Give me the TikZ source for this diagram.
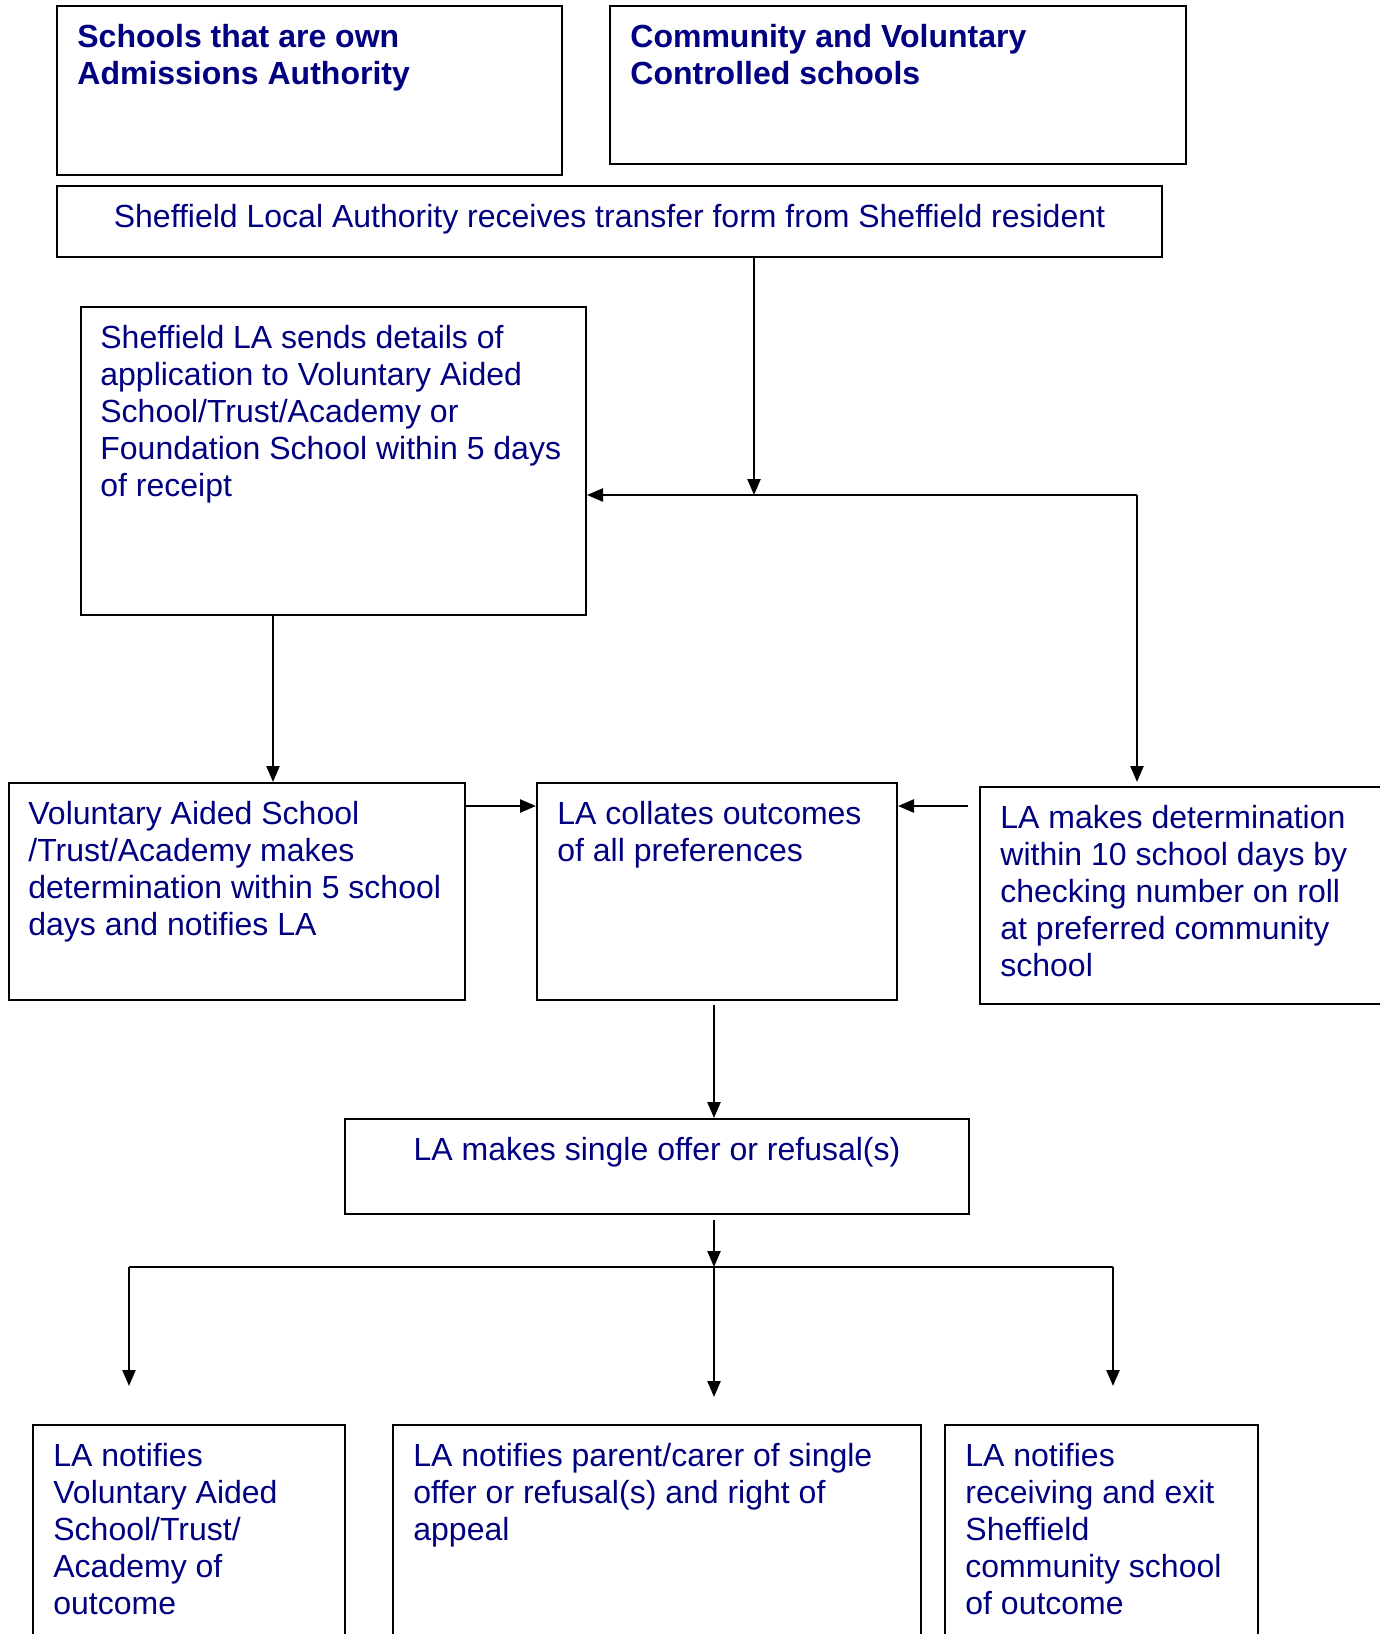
\documentclass[tikz,border=0pt]{standalone}
\usepackage{fontspec}
\setmainfont{Liberation Sans}
\usetikzlibrary{arrows.meta,fit}
\definecolor{navytext}{HTML}{000080}
\tikzset{
  box/.style={draw=black, line width=1pt, inner sep=0pt, rectangle},
  txt/.style={inner sep=0pt, align=left, text=navytext, font=\fontsize{16pt}{18.5pt}\selectfont},
  ttl/.style={txt, font=\fontsize{16pt}{18.25pt}\selectfont\bfseries},
  arr/.style={draw=black, line width=1.2pt, -{Triangle[length=8pt,width=6.5pt]}},
  ln/.style={draw=black, line width=1.2pt}
}
\begin{document}
\begin{tikzpicture}[x=0.5pt,y=-0.5pt]
\clip (0,0) rectangle (1380,1634);
\fill[white] (0,0) rectangle (1380,1634);
% boxes
\node[box, fit={(57,6) (562,175)}] (b1) {};
\node[box, fit={(610,6) (1186,164)}] (b2) {};
\node[box, fit={(57,186) (1162,257)}] (b3) {};
\node[box, fit={(81,307) (586,615)}] (b4) {};
\node[box, fit={(9,783) (465,1000)}] (b5) {};
\node[box, fit={(537,783) (897,1000)}] (b6) {};
\node[box, fit={(980,787) (1400,1004)}] (b7) {};
\node[box, fit={(345,1119) (969,1214)}] (b8) {};
\node[box, fit={(33,1425) (345,1660)}] (b9) {};
\node[box, fit={(393,1425) (921,1660)}] (b10) {};
\node[box, fit={(945,1425) (1258,1660)}] (b11) {};
% texts
\node[ttl, anchor=north west] (t1) at ([shift={(21,19)}]b1.north west) {Schools that are own\\Admissions Authority};
\node[ttl, anchor=north west] (t2) at ([shift={(21,19)}]b2.north west) {Community and Voluntary\\Controlled schools};
\node[txt, anchor=north] (t3) at ([shift={(0,19)}]b3.north) {Sheffield Local Authority receives transfer form from Sheffield resident};
\node[txt, anchor=north west] (t4) at ([shift={(20,19)}]b4.north west) {Sheffield LA sends details of\\application to Voluntary Aided\\School/Trust/Academy or\\Foundation School within 5 days\\of receipt};
\node[txt, anchor=north west] (t5) at ([shift={(20,19)}]b5.north west) {Voluntary Aided School\\/Trust/Academy makes\\determination within 5 school\\days and notifies LA};
\node[txt, anchor=north west] (t6) at ([shift={(21,19)}]b6.north west) {LA collates outcomes\\of all preferences};
\node[txt, anchor=north west] (t7) at ([shift={(21,19)}]b7.north west) {LA makes determination\\within 10 school days by\\checking number on roll\\at preferred community\\school};
\node[txt, anchor=north] (t8) at ([shift={(0,19)}]b8.north) {LA makes single offer or refusal(s)};
\node[txt, anchor=north west] (t9) at ([shift={(21,19)}]b9.north west) {LA notifies\\Voluntary Aided\\School/Trust/\\Academy of\\outcome};
\node[txt, anchor=north west] (t10) at ([shift={(21,19)}]b10.north west) {LA notifies parent/carer of single\\offer or refusal(s) and right of\\appeal};
\node[txt, anchor=north west] (t11) at ([shift={(21,19)}]b11.north west) {LA notifies\\receiving and exit\\Sheffield\\community school\\of outcome};
% junction coordinates
\coordinate (j1) at (754,495);
\coordinate (j2) at (1137,495);
\coordinate (e7) at (1137,782);
\coordinate (e5) at (273,782);
\coordinate (c6) at (714,1005);
\coordinate (c8) at (714,1220);
\coordinate (j3) at (714,1267);
\coordinate (jl) at (129,1267);
\coordinate (jr) at (1113,1267);
\coordinate (dl) at (129,1386);
\coordinate (dm) at (714,1397);
\coordinate (dr) at (1113,1386);
% connectors
\draw[arr] (b3.south -| j1) -- (j1);
\draw[arr] (j2) -- (j2 -| b4.east);
\draw[arr] (j2) -- (e7);
\draw[arr] (b4.south -| e5) -- (e5);
\draw[arr] ([yshift=-12pt]b5.north east) -- ([yshift=-12pt]b6.north west);
\draw[arr] ([shift={(-11,20)}]b7.north west) -- ([yshift=-12pt]b6.north east);
\draw[arr] (c6) -- (c6 |- b8.north);
\draw[arr] (c8) -- (j3);
\draw[ln] (jl) -- (jr);
\draw[arr] (jl) -- (dl);
\draw[arr] (j3) -- (dm);
\draw[arr] (jr) -- (dr);
\end{tikzpicture}
\end{document}
